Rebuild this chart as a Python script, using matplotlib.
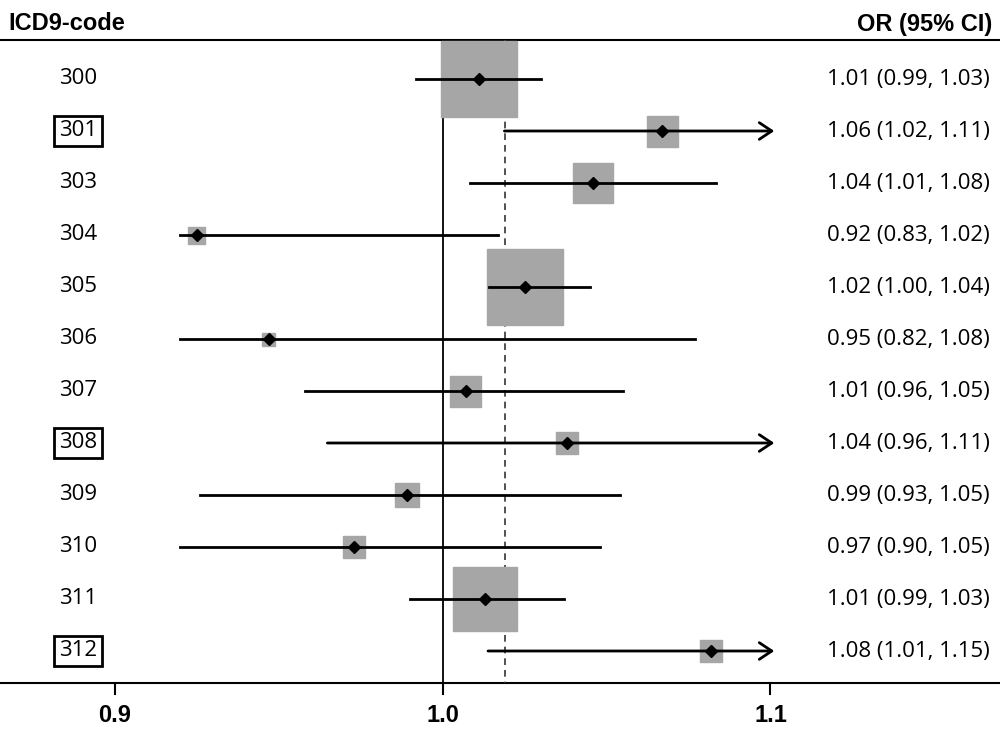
import matplotlib.pyplot as plt
from matplotlib.patches import Rectangle

codes = ["300", "301", "303", "304", "305", "306", "307", "308", "309", "310", "311", "312"]
or_est = [1.011, 1.067, 1.046, 0.925, 1.025, 0.947, 1.007, 1.038, 0.989, 0.973, 1.013, 1.082]
ci_low = [0.992, 1.018, 1.0085, 0.920, 1.014, 0.920, 0.958, 0.964, 0.926, 0.920, 0.990, 1.013]
ci_high = [1.030, 1.100, 1.0835, 1.017, 1.045, 1.077, 1.055, 1.100, 1.054, 1.048, 1.037, 1.100]
arrow = [False, True, False, False, False, False, False, True, False, False, False, True]
boxed = [False, True, False, False, False, False, False, True, False, False, False, True]
weight = [76, 31, 40, 17, 76, 13, 31, 22, 24, 22, 64, 22]  # box side, px
labels = ["1.01 (0.99, 1.03)", "1.06 (1.02, 1.11)", "1.04 (1.01, 1.08)", "0.92 (0.83, 1.02)",
          "1.02 (1.00, 1.04)", "0.95 (0.82, 1.08)", "1.01 (0.96, 1.05)", "1.04 (0.96, 1.11)",
          "0.99 (0.93, 1.05)", "0.97 (0.90, 1.05)", "1.01 (0.99, 1.03)", "1.08 (1.01, 1.15)"]
pooled = 1.019
xticks = [0.9, 1.0, 1.1]

fig = plt.figure(figsize=(10, 7.32), dpi=100)
ax = fig.add_axes([0, 0, 1, 1])
x0, x1 = 0.865, 1.170
ax.set_xlim(x0, x1)
ax.set_ylim(732, 0)
ax.axis("off")
xpp = (x1 - x0) / 1000  # data per pixel
body = "Open Sans"
head = "Liberation Sans"

ax.plot([x0, x1], [40, 40], color="black", lw=1.5)
ax.plot([x0, x1], [683, 683], color="black", lw=1.5)
ax.plot([1.0, 1.0], [40, 683], color="black", lw=1.3)
ax.plot([pooled, pooled], [40, 683], color="#333333", lw=1.2, ls=(0, (4, 3)))
ax.text(x0 + 8 * xpp, 24, "ICD9-code", fontsize=17, fontweight="bold", va="center", family=head)
ax.text(x1 - 8 * xpp, 24, "OR (95% CI)", fontsize=17, fontweight="bold", va="center", ha="right", family=head)

for t in xticks:
    ax.plot([t, t], [683, 694], color="black", lw=1.5)
    ax.text(t, 716, f"{t:.1f}", fontsize=17, fontweight="bold", ha="center", va="center", family=head)

for i, c in enumerate(codes):
    y = 79 + i * 52.0
    w = weight[i]
    ax.add_patch(Rectangle((or_est[i] - w / 2 * xpp, y - w / 2), w * xpp, w,
                           color="#a6a6a6", zorder=2))
    if arrow[i]:
        ax.annotate("", xy=(ci_high[i] + 0.002, y), xytext=(ci_low[i], y), zorder=3,
                    arrowprops=dict(arrowstyle="->,head_length=0.9,head_width=0.6", lw=2, color="black"))
    else:
        ax.plot([ci_low[i], ci_high[i]], [y, y], color="black", lw=2, zorder=3)
    ax.plot(or_est[i], y, marker="D", color="black", ms=6, zorder=4)
    bbox = dict(boxstyle="square,pad=0.2", fc="none", ec="black", lw=2) if boxed[i] else None
    ax.text(x0 + 78 * xpp, y, c, fontsize=16, ha="center", va="center", bbox=bbox, family=body)
    ax.text(x0 + 990 * xpp, y, labels[i], fontsize=16, ha="right", va="center", family=body)

fig.savefig("out.png", dpi=100)
